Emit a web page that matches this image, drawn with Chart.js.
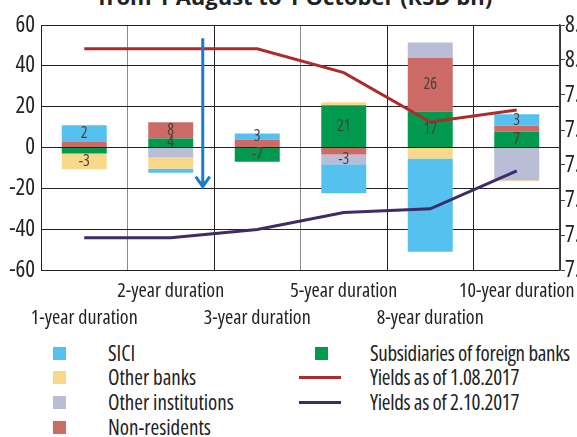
<!DOCTYPE html>
<html>
<head>
<meta charset="utf-8">
<script src="https://cdn.jsdelivr.net/npm/chart.js@4.4.1/dist/chart.umd.min.js"></script>
<style>
html, body { margin: 0; padding: 0; background: #fff; width: 577px; height: 437px; overflow: hidden; }
body { position: relative; color: #222; }
#title { position: absolute; left: 0; width: 590px; top: -15px; text-align: center; font-weight: bold; font-size: 22px; line-height: 22px; white-space: nowrap; }
#wrap { position: absolute; left: 0; top: 0; width: 600px; height: 335px; }
.lg { position: absolute; font-size: 21px; line-height: 25px; white-space: nowrap; }
.sq { position: absolute; width: 13px; height: 13px; }
.ln { position: absolute; width: 42px; height: 3px; }
</style>
</head>
<body>
<div id="title">from 1 August to 1 October (RSD bn)</div>
<div id="wrap"><canvas id="chart"></canvas></div>
<div id="legend"></div>
<script>
const categories = ['1-year duration', '2-year duration', '3-year duration', '5-year duration', '8-year duration', '10-year duration'];

// RSD bn, stacked in this order (subsidiaries nearest to zero)
const subsidiaries = [-2.9, 4.4, -7.0, 20.7, 17.6, 7.7];
const nonResidents = [2.7, 8.0, 3.9, -3.4, 26.3, 2.9];
const otherInstitutions = [0, -4.9, 0, -4.8, 7.5, -16.0];
const otherBanks = [-7.8, -5.5, 0, 1.5, -5.4, -0.5];
const sici = [8.2, -2.0, 3.0, -14.2, -45.7, 5.7];

// yields, right axis
const yields0108 = [8.032, 8.032, 8.032, 7.964, 7.823, 7.857];
const yields0210 = [7.492, 7.492, 7.516, 7.564, 7.575, 7.683];

// numbers printed on the bars
const subsidiariesText = ['', '4', '-7', '21', '17', '7'];
const nonResidentsText = ['', '8', '', '', '26', ''];
const otherInstitutionsText = ['', '', '', '-3', '', ''];
const otherBanksText = ['-3', '', '', '', '', ''];
const siciText = ['2', '', '3', '', '', '3'];

const leftMin = -60, leftMax = 60, leftStep = 20;
const rightMin = 7.4, rightMax = 8.1, rightStep = 0.1;

// blue arrow, in axis units (category index, RSD bn)
const arrowX = 1.37, arrowFrom = 53.5, arrowTo = -19.6;

const C = {
    sici: '#55c1ee',
    otherBanks: '#f8d98c',
    otherInstitutions: '#b9bdd6',
    nonResidents: '#cc6b66',
    subsidiaries: '#00994e',
    y0108: '#ae2b2c',
    y0210: '#3f2b66',
    arrow: '#1a7dca'
};

// the original uses a narrow grotesque; pick the narrowest installed match
const fontCands = [
    ['condensed', "'Noto Sans'"],
    ['extra-condensed', "'Noto Sans'"],
    ['semi-condensed', "'Noto Sans'"],
    ['condensed', "'Open Sans'"],
    ['semi-condensed', "'Open Sans'"],
    ['normal', "'DejaVu Sans Condensed'"],
    ['normal', "'Liberation Sans Narrow'"]
];
const mctx = document.createElement('canvas').getContext('2d');
let best = fontCands[fontCands.length - 2], bestDiff = 1e9;
fontCands.forEach(c => {
    mctx.font = c[0] + ' 20px ' + c[1] + ', sans-serif';
    const w = mctx.measureText('Yields as of 1.08.2017').width;
    const d = Math.abs(w - 163);
    if (d < bestDiff) { bestDiff = d; best = c; }
});
const STRETCH = best[0];
const FONT = best[1] + ", 'DejaVu Sans Condensed', sans-serif";
document.body.style.fontFamily = FONT;
document.body.style.fontStretch = STRETCH;
document.getElementById('title').style.fontStretch = 'normal';

function font(size, bold) {
    // weight slot carries the stretch keyword into the canvas font string
    return { family: FONT, size: size, weight: (bold ? 'bold ' : '') + STRETCH };
}

function bar(label, data, color, text) {
    return {
        type: 'bar', label: label, data: data, backgroundColor: color,
        borderWidth: 0, barPercentage: 0.52, categoryPercentage: 1,
        yAxisID: 'y', order: 1, valueText: text
    };
}

const barText = {
    id: 'barText',
    afterDatasetsDraw(chart) {
        const ctx = chart.ctx;
        ctx.save();
        ctx.font = STRETCH + ' 16px ' + FONT;
        ctx.fillStyle = '#4a3e3e';
        ctx.textAlign = 'center';
        ctx.textBaseline = 'middle';
        chart.data.datasets.forEach((ds, i) => {
            if (!ds.valueText) return;
            chart.getDatasetMeta(i).data.forEach((el, j) => {
                const t = ds.valueText[j];
                if (t) ctx.fillText(t, el.x, (el.y + el.base) / 2);
            });
        });
        // arrow
        const x = chart.scales.x.getPixelForValue(arrowX);
        const y1 = chart.scales.y.getPixelForValue(arrowFrom);
        const y2 = chart.scales.y.getPixelForValue(arrowTo);
        ctx.strokeStyle = C.arrow;
        ctx.lineWidth = 3;
        ctx.beginPath();
        ctx.moveTo(x, y1);
        ctx.lineTo(x, y2 - 1);
        ctx.moveTo(x - 7, y2 - 11);
        ctx.lineTo(x, y2 - 1);
        ctx.lineTo(x + 7, y2 - 11);
        ctx.stroke();
        ctx.restore();
    }
};

const ctx = document.getElementById('chart').getContext('2d');
const chart = new Chart(ctx, {
    data: {
        labels: categories,
        datasets: [
            bar('Subsidiaries of foreign banks', subsidiaries, C.subsidiaries, subsidiariesText),
            bar('Non-residents', nonResidents, C.nonResidents, nonResidentsText),
            bar('Other institutions', otherInstitutions, C.otherInstitutions, otherInstitutionsText),
            bar('Other banks', otherBanks, C.otherBanks, otherBanksText),
            bar('SICI', sici, C.sici, siciText),
            {
                type: 'line', label: 'Yields as of 1.08.2017', data: yields0108,
                borderColor: C.y0108, borderWidth: 3, pointRadius: 0, fill: false,
                tension: 0, yAxisID: 'y2', order: 0
            },
            {
                type: 'line', label: 'Yields as of 2.10.2017', data: yields0210,
                borderColor: C.y0210, borderWidth: 3, pointRadius: 0, fill: false,
                tension: 0, yAxisID: 'y2', order: 0
            }
        ]
    },
    options: {
        responsive: true,
        maintainAspectRatio: false,
        animation: false,
        layout: { padding: { top: 25, left: 0, right: 0, bottom: 0 } },
        plugins: { legend: { display: false }, tooltip: { enabled: false } },
        scales: {
            x: {
                stacked: true,
                grid: {
                    offset: true, drawTicks: false, lineWidth: 1,
                    color: c => (c.index === 1 || c.index === 3) ? '#8a8a8a' : '#222'
                },
                border: { display: false },
                ticks: {
                    autoSkip: false, maxRotation: 0, padding: 8, color: '#222',
                    font: Object.assign(font(20), { lineHeight: 1.35 }),
                    callback: (v, i) => i % 2 ? [categories[i]] : ['', categories[i]]
                },
                afterFit: s => { s.height = 65; }
            },
            y: {
                stacked: true, min: leftMin, max: leftMax,
                grid: { color: '#222', drawTicks: false },
                border: { color: '#222' },
                ticks: { stepSize: leftStep, padding: 6, color: '#222', font: font(23) },
                afterFit: s => { s.width = 41; }
            },
            y2: {
                position: 'right', min: rightMin, max: rightMax,
                grid: { drawOnChartArea: false, tickLength: 5, color: '#444' },
                border: { color: '#444', width: 1.5 },
                ticks: {
                    stepSize: rightStep, padding: 0, color: '#222', font: font(23),
                    callback: v => v.toFixed(1)
                },
                afterFit: s => { s.width = 40; }
            }
        }
    },
    plugins: [barText]
});

// legend: two columns like the original
const legendItems = [
    { kind: 'sq', label: 'SICI', color: C.sici, col: 0, row: 0 },
    { kind: 'sq', label: 'Other banks', color: C.otherBanks, col: 0, row: 1 },
    { kind: 'sq', label: 'Other institutions', color: C.otherInstitutions, col: 0, row: 2 },
    { kind: 'sq', label: 'Non-residents', color: C.nonResidents, col: 0, row: 3 },
    { kind: 'sq', label: 'Subsidiaries of foreign banks', color: C.subsidiaries, col: 1, row: 0 },
    { kind: 'ln', label: 'Yields as of 1.08.2017', color: C.y0108, col: 1, row: 1 },
    { kind: 'ln', label: 'Yields as of 2.10.2017', color: C.y0210, col: 1, row: 2 }
];
const legendEl = document.getElementById('legend');
legendItems.forEach(it => {
    const cy = 353 + it.row * 24.7;
    const m = document.createElement('div');
    m.className = it.kind;
    m.style.background = it.color;
    if (it.kind === 'sq') {
        m.style.left = (it.col ? 315 : 53) + 'px';
        m.style.top = (cy - 6.5) + 'px';
    } else {
        m.style.left = '299px';
        m.style.top = (cy - 1.5) + 'px';
    }
    legendEl.appendChild(m);
    const t = document.createElement('div');
    t.className = 'lg';
    t.textContent = it.label;
    t.style.left = (it.col ? 370 : 108) + 'px';
    t.style.top = (cy - 12.5) + 'px';
    t.style.letterSpacing = it.col ? '-0.3px' : '0';
    legendEl.appendChild(t);
});
</script>
</body>
</html>
